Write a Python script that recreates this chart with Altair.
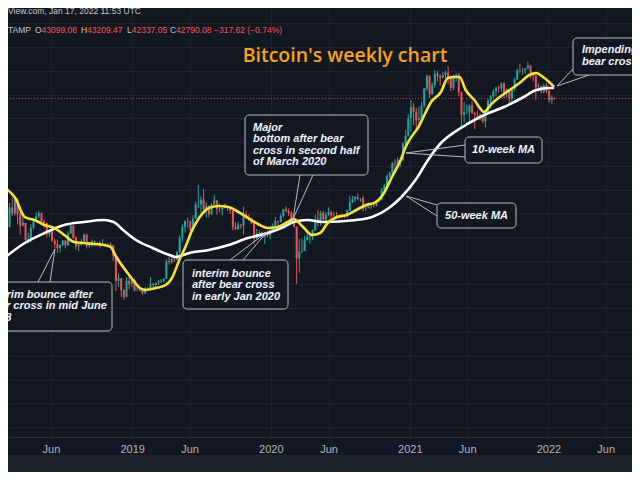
import altair as alt
import pandas as pd

# ---------------- data (weekly BTC/USD, Bitstamp, candles start Mon 2018-01-29) -------------
FIRST_OPEN = 11700.0
CLOSES = [
    8200,                                   # 2018 Jan
    8100, 10400, 9600, 11500,               # Feb
    9500, 8200, 8500, 6800,                 # Mar
    6900, 8000, 8900, 9250, 9650,           # Apr
    8700, 8500, 7350, 7700,                 # May
    6750, 6450, 6150, 6380,                 # Jun
    6750, 6350, 7400, 8200, 7000,           # Jul
    6300, 6400, 6700, 7300,                 # Aug
    6300, 6500, 6700, 6600,                 # Sep
    6600, 6300, 6450, 6450, 6450,           # Oct
    6350, 5550, 4000, 4150,                 # Nov
    3550, 3250, 4000, 3850, 4050,           # Dec
    3520, 3530, 3540, 3410,                 # 2019 Jan
    3650, 3650, 3850, 3800,                 # Feb
    3900, 3980, 4000, 4100,                 # Mar
    5150, 5100, 5300, 5250, 5800,           # Apr
    7000, 8100, 8700, 8700,                 # May
    7700, 8950, 10800, 10800,               # Jun
    11500, 10200, 10600, 9500, 10800,       # Jul
    11350, 10200, 10150, 10350,             # Aug
    10400, 10300, 10000, 8050, 7850,        # Sep
    8300, 8200, 9500, 9200,                 # Oct
    9050, 8450, 6950, 7400,                 # Nov
    7500, 7100, 7500, 7250, 7750,           # Dec
    8150, 8700, 8600, 9300,                 # 2020 Jan
    10150, 9900, 9650, 8550,                # Feb
    8050, 5350, 5850, 5900, 6800,           # Mar
    7100, 7150, 7750, 8900,                 # Apr
    8750, 9700, 8900, 9450,                 # May
    9750, 9350, 9300, 9150, 9100,           # Jun
    9250, 9200, 9950, 11100,                # Jul
    11550, 11900, 11650, 11700, 10250,      # Aug
    10350, 10950, 10800, 10650,             # Sep
    11400, 11500, 13100, 13800,             # Oct
    15500, 16300, 18400, 18200, 19150,      # Nov
    19250, 23800, 26400, 33000,             # Dec
    38150, 36050, 32250, 33100,             # 2021 Jan
    38850, 48600, 57500, 45200,             # Feb
    51000, 59000, 57400, 55800, 58000,      # Mar
    59800, 56200, 49100, 56600,             # Apr
    58200, 46400, 34700, 35650, 35800,      # May
    39000, 35500, 34700, 34650,             # Jun
    34250, 31800, 35400, 41500,             # Jul
    43800, 47000, 49300, 48800, 51800,      # Aug
    46000, 48300, 42800, 48200,             # Sep
    54700, 61600, 61300, 61500,             # Oct
    63300, 65500, 59700, 57300, 49400,      # Nov
    50100, 46700, 50800, 47300,             # Dec
    41850, 43099.08, 42790.08,              # 2022 Jan
]
HIGHS = [
    11800,
    8900, 11000, 11790, 11600,
    11700, 9900, 9200, 8500,
    7500, 8400, 9000, 9750, 9950,
    9700, 8880, 8550, 7750,
    7750, 6900, 6850, 6450,
    6800, 6800, 7600, 8500, 8250,
    7150, 6600, 6900, 7400,
    7400, 6600, 6850, 6750,
    6650, 6700, 6900, 6600, 6550,
    6600, 6400, 5600, 4400,
    4150, 3600, 4200, 4250, 4100,
    4100, 3800, 3650, 3550,
    3700, 3700, 4200, 3900,
    3950, 4050, 4100, 4150,
    5300, 5450, 5400, 5600, 5900,
    7200, 8350, 8800, 9100,
    8750, 9400, 11200, 13850,
    12000, 13200, 11100, 10650, 11000,
    12300, 11450, 10950, 10650,
    10950, 10450, 10350, 10050, 8550,
    8650, 8400, 10500, 9900,
    9500, 9100, 8500, 7850,
    7700, 7600, 7550, 7700, 8000,
    8450, 9200, 8750, 9600,
    10200, 10500, 10250, 9950,
    9200, 8150, 6900, 6950, 7200,
    7450, 7300, 7800, 9450,
    10050, 9950, 9950, 9750,
    10400, 10000, 9800, 9800, 9300,
    9450, 9300, 10100, 12100,
    12050, 12050, 12450, 11750, 12100,
    10600, 11100, 10950, 10950,
    11500, 11700, 13350, 14100,
    15950, 16500, 18800, 19400, 19900,
    19400, 24300, 28400, 34800,
    41950, 40100, 37850, 38500,
    41000, 49000, 58350, 57600,
    52600, 61800, 61000, 58400, 60200,
    61300, 64850, 57500, 58400,
    59500, 59600, 46600, 40900, 39450,
    39500, 41300, 35700, 36600,
    35100, 34600, 35500, 42600,
    44700, 48100, 49400, 50500, 52900,
    52800, 48850, 48400, 49200,
    56100, 62900, 67000, 63700,
    63400, 69000, 66300, 59900, 59100,
    51950, 50200, 52000, 52100,
    47550, 44450, 43209.47,
]
LOWS = [
    7700,
    6000, 8000, 9300, 9350,
    8350, 7300, 8100, 6500,
    6500, 6600, 7800, 8700, 9000,
    8300, 7950, 7050, 7100,
    6650, 6100, 5750, 5800,
    6300, 6100, 6300, 7400, 6900,
    6000, 5900, 6300, 6650,
    6100, 6150, 6200, 6400,
    6450, 6150, 6300, 6350, 6250,
    6300, 5200, 3500, 3700,
    3250, 3130, 3230, 3600, 3700,
    3500, 3500, 3480, 3350,
    3380, 3550, 3650, 3700,
    3680, 3800, 3900, 3900,
    4100, 4950, 5000, 5100, 5250,
    5700, 6650, 7500, 8000,
    7450, 7550, 8950, 10300,
    9700, 10000, 9100, 9100, 9400,
    10800, 9450, 9750, 9350,
    10250, 9900, 9600, 7700, 7750,
    7750, 7850, 7300, 8950,
    8700, 8350, 6500, 6850,
    7200, 7050, 6450, 7050, 6850,
    7700, 8100, 8250, 8550,
    9100, 9800, 9300, 8400,
    8000, 3850, 4450, 5750, 5900,
    6750, 6500, 6800, 7650,
    8100, 8200, 8800, 8650,
    9300, 9050, 9200, 8950, 8900,
    9050, 9050, 9150, 9950,
    11000, 11150, 11350, 11150, 9850,
    9900, 10250, 10150, 10400,
    10550, 11200, 11400, 12950,
    13300, 15200, 15800, 16200, 18100,
    17600, 19000, 21800, 26100,
    27700, 30400, 28850, 29200,
    32300, 38050, 47100, 43000,
    45000, 49300, 53300, 50400, 55500,
    55500, 51500, 47050, 47700,
    53100, 43850, 30000, 31250, 34800,
    31000, 34850, 28800, 32700,
    32100, 31000, 29300, 35200,
    37450, 43000, 43950, 46400, 46600,
    42800, 43400, 39600, 40800,
    46900, 54400, 59600, 58000,
    59200, 62300, 55600, 53300, 42000,
    46800, 45600, 45600, 45700,
    40600, 39650, 42337.05,
]

# 10-week moving average
MA10_DATES = ["2018-02-01", "2018-02-27", "2018-03-24", "2018-04-19", "2018-05-15", "2018-06-10",
              "2018-07-06", "2018-08-01", "2018-08-27", "2018-09-22", "2018-10-18", "2018-11-05",
              "2018-11-20", "2018-12-08", "2019-01-03", "2019-01-21", "2019-02-06", "2019-03-04",
              "2019-03-30", "2019-04-17", "2019-05-05", "2019-05-21", "2019-06-08", "2019-06-26",
              "2019-07-22", "2019-08-17", "2019-09-12", "2019-10-08", "2019-11-02", "2019-11-28",
              "2019-12-24", "2020-01-19", "2020-02-14", "2020-03-01", "2020-03-26", "2020-04-19",
              "2020-05-10", "2020-05-30", "2020-06-23", "2020-07-18", "2020-08-13", "2020-09-08",
              "2020-10-04", "2020-10-25", "2020-11-15", "2020-12-08", "2020-12-21", "2021-01-05",
              "2021-01-24", "2021-02-11", "2021-02-26", "2021-03-24", "2021-04-11", "2021-04-29",
              "2021-05-12", "2021-05-28", "2021-06-20", "2021-07-16", "2021-08-01", "2021-08-26",
              "2021-09-21", "2021-10-17", "2021-11-12", "2021-11-30", "2021-12-18", "2022-01-03",
              "2022-01-16"]
MA10 = [13370, 11740, 9175, 8823, 8270, 7952, 7262, 6631, 6546, 6460, 6378, 6216, 5455, 4792,
        4049, 3649, 3556, 3649, 3794, 4209, 5248, 6216, 7749, 9057, 10312, 10584, 10449, 9790,
        9057, 8377, 7952, 8058, 8598, 8938, 8058, 7262, 7452, 8487, 9175, 9416, 10047, 10720,
        11148, 12530, 15420, 19235, 22770, 25930, 29530, 35410, 40840, 46520, 55790, 56510,
        56510, 47740, 41930, 35870, 39270, 43590, 47740, 52290, 58010, 59540, 56510, 52960,
        49640]

# 50-week moving average
MA50_DATES = ["2018-02-01", "2018-03-24", "2018-05-15", "2018-07-06", "2018-08-27", "2018-10-18",
              "2018-11-13", "2018-12-08", "2019-01-11", "2019-02-24", "2019-04-09", "2019-04-25",
              "2019-05-31", "2019-07-22", "2019-09-12", "2019-11-02", "2019-12-24", "2020-02-04",
              "2020-03-01", "2020-04-06", "2020-05-17", "2020-08-13", "2020-09-24", "2020-11-07",
              "2020-12-10", "2021-01-16", "2021-02-18", "2021-03-24", "2021-04-29", "2021-06-02",
              "2021-07-16", "2021-09-06", "2021-10-28", "2021-11-30", "2022-01-03", "2022-01-16"]
MA50 = [5455, 6546, 7452, 8270, 8598, 8823, 8598, 7749, 6806, 6133, 5600, 5455, 5748, 5976,
        6378, 6984, 7452, 8058, 8598, 8823, 8598, 8823, 9175, 10312, 11895, 14833, 19235,
        23986, 27671, 30700, 34500, 38280, 43590, 47740, 48980, 48980]

LAST_CLOSE = 42790.08
X_TICKS = ["2018-06-01", "2019-01-01", "2019-06-01", "2020-01-01", "2020-06-01",
           "2021-01-01", "2021-06-01", "2022-01-01", "2022-06-01"]
Y_GRID = [600, 820, 1110, 1510, 2060, 2800, 3820, 5200, 7080, 9630, 13100, 17850,
          24300, 33100, 45000, 61300, 83400, 113600]
X_START, X_END = "2018-02-21", "2022-07-27"
Y_MIN, Y_MAX = 527, 138460

HEADER1 = "TradingView.com, Jan 17, 2022 11:53 UTC"
HEADER2 = [("Bitcoin / U.S. Dollar, 1W, BITSTAMP", "g"), ("O", "g"), ("43099.08", "r"),
           ("H", "g"), ("43209.47", "r"), ("L", "g"), ("42337.05", "r"), ("C", "g"),
           ("42790.08", "r"), ("\u2212317.62 (\u22120.74%)", "r")]
TITLE = "Bitcoin's weekly chart"

# ---------------- style ----------------
W, H = 624, 429
BG = "#131722"
GRID = "#1f2330"
UP, DOWN = "#26a69a", "#ef5350"
YELLOW, WHITE = "#f2e33c", "#ffffff"
BOX_STROKE = "#b8bbc4"
NOTE_COLOR = "#f0f3fa"
TXT_GRAY = "#c3c6ce"
RED_TXT = "#f0595a"
FONT = "Liberation Sans"


def ts(s):
    return int(pd.Timestamp(s, tz="UTC").value // 10**6)


dates = pd.date_range("2018-01-29", periods=len(CLOSES), freq="7D").strftime("%Y-%m-%d").tolist()
opens = [FIRST_OPEN] + CLOSES[:-1]
candles = pd.DataFrame({"date": dates, "open": opens, "high": HIGHS, "low": LOWS, "close": CLOSES})
ma10_df = pd.DataFrame({"date": MA10_DATES, "value": MA10})
ma50_df = pd.DataFrame({"date": MA50_DATES, "value": MA50})

x_scale = alt.Scale(type="utc", domain=[ts(X_START), ts(X_END)], nice=False)
y_scale = alt.Scale(type="log", domain=[Y_MIN, Y_MAX], nice=False)

x_axis = alt.Axis(values=[ts(d) for d in X_TICKS],
                  labelExpr="utcmonth(datum.value) == 0 ? utcFormat(datum.value, '%Y') : 'Jun'",
                  title=None, grid=True, gridColor=GRID, gridWidth=1, ticks=False, tickSize=0,
                  labelPadding=6, labelColor="#b2b5be", labelFont=FONT, labelFontSize=11,
                  domainColor="#2a2e39", labelOverlap=False, labelFlush=False)
y_axis = alt.Axis(values=Y_GRID, labels=False, ticks=False, domain=False, grid=True,
                  gridColor=GRID, gridWidth=1, title=None)

color = alt.condition("datum.close >= datum.open", alt.value(UP), alt.value(DOWN))

wicks = alt.Chart(candles).mark_rule(strokeWidth=1, clip=True).encode(
    x=alt.X("date:T", scale=x_scale, axis=x_axis),
    y=alt.Y("low:Q", scale=y_scale, axis=y_axis),
    y2="high:Q",
    color=color,
)
bodies = alt.Chart(candles).mark_bar(size=2, clip=True).encode(
    x=alt.X("date:T", scale=x_scale),
    y=alt.Y("open:Q", scale=y_scale),
    y2="close:Q",
    color=color,
)
ma50_line = alt.Chart(ma50_df).mark_line(color=WHITE, strokeWidth=2.6, interpolate="monotone",
                                         clip=True).encode(
    x=alt.X("date:T", scale=x_scale), y=alt.Y("value:Q", scale=y_scale))
ma10_line = alt.Chart(ma10_df).mark_line(color=YELLOW, strokeWidth=2.6, interpolate="monotone",
                                         clip=True).encode(
    x=alt.X("date:T", scale=x_scale), y=alt.Y("value:Q", scale=y_scale))
price_line = alt.Chart(alt.Data(values=[{"p": LAST_CLOSE}])).mark_rule(
    color=DOWN, strokeDash=[1, 2], strokeWidth=1, opacity=0.8).encode(
    y=alt.Y("p:Q", scale=y_scale))

ONE = alt.Data(values=[{"k": 1}])


def box(x1, y1, x2, y2):
    return alt.Chart(ONE).mark_rect(fill=BG, stroke=BOX_STROKE, strokeWidth=1, cornerRadius=4).encode(
        x=alt.value(x1), x2=alt.value(x2), y=alt.value(y1), y2=alt.value(y2))


def pointer(x1, y1, x2, y2):
    return alt.Chart(ONE).mark_rule(color=BOX_STROKE, strokeWidth=1).encode(
        x=alt.value(x1), x2=alt.value(x2), y=alt.value(y1), y2=alt.value(y2))


def note(x, y, text, align="left", lh=11.3):
    return alt.Chart(ONE).mark_text(align=align, baseline="middle", lineBreak="\n", lineHeight=lh,
                                    font=FONT, fontSize=11, fontStyle="italic", fontWeight="bold",
                                    color=NOTE_COLOR).encode(
        x=alt.value(x), y=alt.value(y), text=alt.value(text))


def plain(x, y, text, col, align="left", size=8.5):
    return alt.Chart(ONE).mark_text(align=align, baseline="middle", font=FONT, fontSize=size,
                                    color=col).encode(
        x=alt.value(x), y=alt.value(y), text=alt.value(text))


annotations = [
    # pointers
    pointer(292, 167, 285, 211), pointer(305, 167, 285, 211),
    pointer(222, 252, 259, 224), pointer(235, 252, 259, 224),
    pointer(30, 274, 47, 241), pointer(42, 274, 47, 241),
    pointer(398, 145, 457, 137), pointer(398, 145, 457, 149),
    pointer(398, 188, 429, 197), pointer(398, 188, 429, 208),
    pointer(549, 78, 565, 61), pointer(549, 78, 581, 67),
    # boxes
    box(237, 107, 360, 167),
    box(175, 252, 280, 301),
    box(-33, 274, 104, 323),
    box(457, 129, 534, 155),
    box(429, 195, 508, 220),
    box(565, 30, 660, 67),
    # texts (y = centre of first line)
    note(245, 120, "Major\nbottom after bear\ncross in second half\nof March 2020"),
    note(184, 266, "interim bounce\nafter bear cross\nin early Jan 2020"),
    note(-21, 287, "interim bounce after\nbear cross in mid June\n2018"),
    note(495.5, 142, "10-week MA", align="center"),
    note(468.5, 207.5, "50-week MA", align="center"),
    note(574, 42, "Impending\nbear cross", lh=12),
]

seg_x = [23, 27, 33.6, 73, 79.1, 119, 123.7, 162, 168.1, 206]
header = [plain(133, 3, HEADER1, TXT_GRAY, align="right")]
for (txt, kind), sx in zip(HEADER2, seg_x):
    header.append(plain(sx, 22, txt, RED_TXT if kind == "r" else TXT_GRAY,
                        align="right" if sx == seg_x[0] else "left"))

title = alt.Chart(ONE).mark_text(align="center", baseline="alphabetic", font="Open Sans",
                                 fontSize=19.5, fontWeight=600, color="#f6a21d").encode(
    x=alt.value(337), y=alt.value(54), text=alt.value(TITLE))

bottom_band = alt.Chart(ONE).mark_rect(fill="#1e222d").encode(
    x=alt.value(0), x2=alt.value(W), y=alt.value(447), y2=alt.value(480))

chart = alt.layer(
    wicks, price_line, bodies, ma50_line, ma10_line, *annotations, *header, title, bottom_band
).properties(
    width=W, height=H,
    padding={"left": 0, "top": 0, "right": 0, "bottom": 35},
    autosize=alt.AutoSizeParams(type="none"),
).configure(background=BG).configure_view(stroke=None)

chart.save("out.html", embed_options={"renderer": "svg", "actions": False})
